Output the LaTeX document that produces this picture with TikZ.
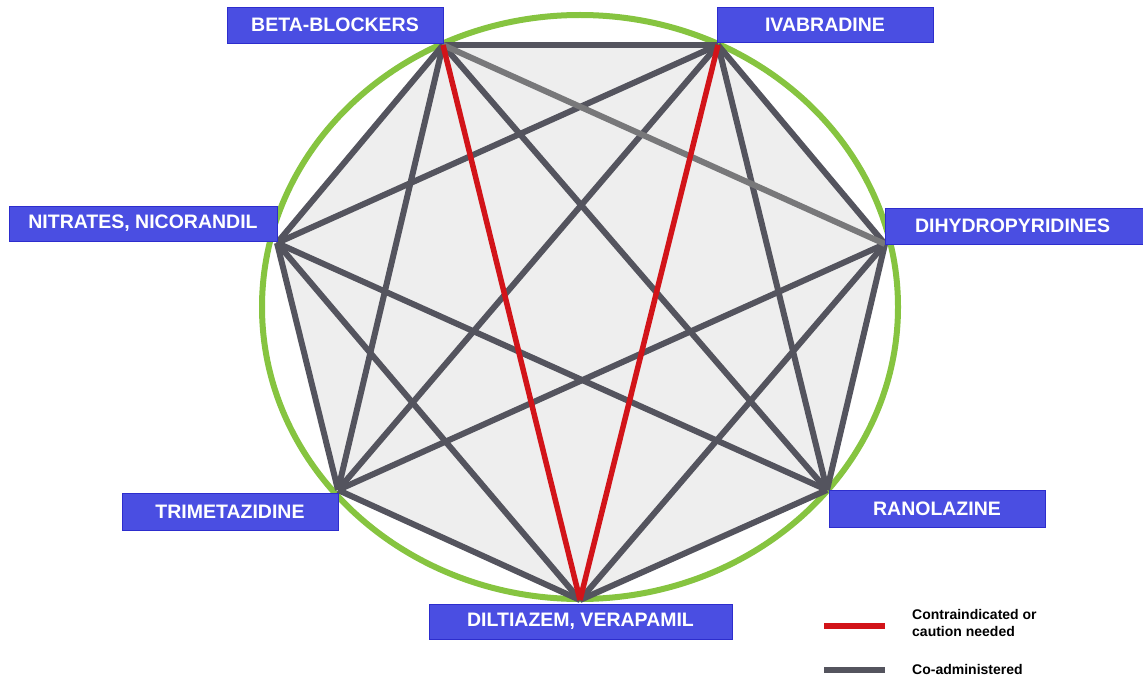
\documentclass[tikz,border=0pt]{standalone}
\usepackage{fontspec}
\setmainfont{Liberation Sans}
\definecolor{lblue}{RGB}{74,78,226}
\definecolor{lblueb}{RGB}{45,45,205}
\definecolor{edgegray}{RGB}{84,84,94}
\definecolor{lightedge}{RGB}{120,120,122}
\definecolor{cred}{RGB}{210,20,25}
\definecolor{cgreen}{RGB}{134,196,64}
\definecolor{fillgray}{RGB}{238,238,238}
\tikzset{
  lbl/.style={draw=lblueb, line width=0.8pt, fill=lblue, text=white, font=\fontsize{19.5}{21}\selectfont\bfseries, inner sep=0pt},
  co/.style={draw=edgegray, line width=6pt},
  coli/.style={draw=lightedge, line width=6pt},
  ci/.style={draw=cred, line width=5.5pt},
  legtxt/.style={font=\fontsize{14}{17}\selectfont\bfseries, anchor=west, align=left, inner sep=0pt}
}
\begin{document}
\begin{tikzpicture}[x=1pt,y=-1pt]
\useasboundingbox (0,0) rectangle (1143,679);
\fill[white] (0,0) rectangle (1143,679);
% vertices
\coordinate (BB) at (443,45);
\coordinate (IV) at (718,45);
\coordinate (DHP) at (885,244);
\coordinate (RAN) at (827,490);
\coordinate (DV) at (580,600);
\coordinate (TRI) at (338,490);
\coordinate (NIT) at (277,243);
% circle
\draw[cgreen, line width=6pt] (580,307) ellipse [x radius=318, y radius=292];
\fill[fillgray] (BB) -- (IV) -- (DHP) -- (RAN) -- (DV) -- (TRI) -- (NIT) -- cycle;
% co-administered edges
\draw[co] (BB) -- (IV);
\draw[co] (BB) -- (RAN);
\draw[co] (BB) -- (TRI);
\draw[co] (BB) -- (NIT);
\draw[co] (IV) -- (DHP);
\draw[co] (IV) -- (RAN);
\draw[co] (IV) -- (TRI);
\draw[co] (IV) -- (NIT);
\draw[co] (DHP) -- (RAN);
\draw[co] (DHP) -- (DV);
\draw[co] (DHP) -- (TRI);
\draw[co] (RAN) -- (DV);
\draw[co] (RAN) -- (NIT);
\draw[co] (DV) -- (TRI);
\draw[co] (DV) -- (NIT);
\draw[co] (TRI) -- (NIT);
\draw[coli] (BB) -- (DHP);
% contraindicated
\draw[ci] (BB) -- (DV);
\draw[ci] (IV) -- (DV);
% labels
\node[lbl, minimum width=216pt, minimum height=36pt] (lBB) at (335,25) {BETA-BLOCKERS};
\node[lbl, minimum width=216pt, minimum height=35pt] (lIV) at (825,24.5) {IVABRADINE};
\node[lbl, minimum width=268pt, minimum height=35pt] (lNIT) at (143,223.5) {NITRATES, NICORANDIL};
\node[lbl, minimum width=262pt, minimum height=36pt, text width=258pt, align=left] (lDHP) at (1016,226) {\hspace*{28pt}DIHYDROPYRIDINES};
\node[lbl, minimum width=216pt, minimum height=37pt] (lTRI) at (230,511.5) {TRIMETAZIDINE};
\node[lbl, minimum width=216pt, minimum height=37pt] (lRAN) at (937,508.5) {RANOLAZINE};
\node[lbl, minimum width=303pt, minimum height=35pt] (lDV) at (580.5,621.5) {DILTIAZEM, VERAPAMIL};
% legend
\coordinate (r1) at (824,626);
\coordinate (r2) at (885,626);
\coordinate (g1) at (824,670);
\coordinate (g2) at (885,670);
\draw[cred, line width=6pt] (r1) -- (r2);
\draw[edgegray, line width=6pt] (g1) -- (g2);
\node[legtxt] (t1) at (912,623) {Contraindicated or\\caution needed};
\node[legtxt] (t2) at (912,669) {Co-administered};
\end{tikzpicture}
\end{document}
